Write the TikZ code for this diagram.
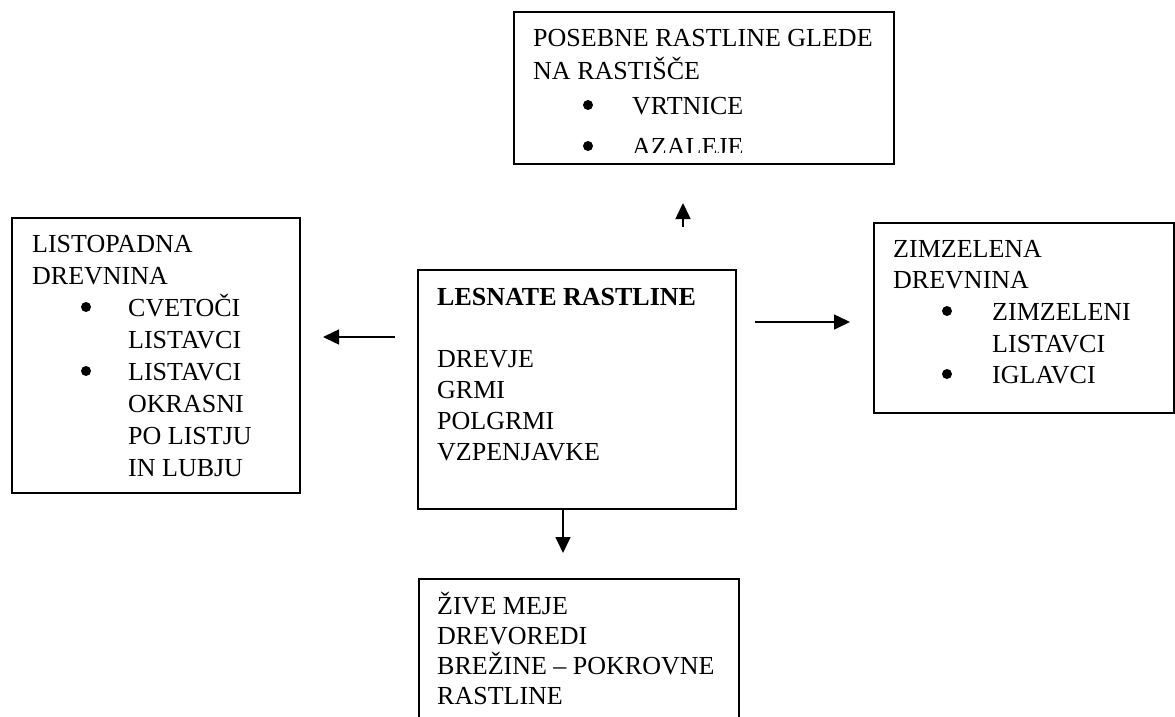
\documentclass[tikz,border=0pt]{standalone}
\usepackage{fontspec}
\setmainfont{Liberation Serif}
\usetikzlibrary{arrows.meta}

\tikzset{
  box/.style={draw, line width=2pt, inner sep=0pt, anchor=north west},
  txt/.style={anchor=base west, inner sep=0pt, font=\fontsize{26}{32}\selectfont},
  dot/.style={circle, fill, inner sep=0pt, minimum size=10pt},
  arr/.style={line width=1.5pt, -{Triangle[length=16pt,width=15pt]}}
}

\begin{document}
\begin{tikzpicture}[x=1pt,y=-1pt]
\fill[white] (0,0) rectangle (1175,717);
\clip (0,0) rectangle (1175,717);

%upper box
\node[box, minimum width=380pt, minimum height=152pt] (posebne) at (513,11) {};
\begin{scope}
  \clip (515,13) rectangle (891,152);
  \foreach \xx/\yy/\word [count=\i] in {533/47/{POSEBNE RASTLINE GLEDE}, 533/79/{NA RASTIŠČE}, 632/114/VRTNICE, 632/155/AZALEJE}
  {
    \node[txt] (posebne-\i) at (\xx,\yy) {\word};
  }
  \foreach \yy [count=\i] in {114,155}
  {
    \node[dot] (posebne-b\i) at (588,\yy-9) {};
  }
\end{scope}

%left box
\node[box, minimum width=288pt, minimum height=275pt] (listopadna) at (11,217) {};
\foreach \xx/\yy/\word [count=\i] in {32/252/LISTOPADNA, 32/284/DREVNINA, 128/316/CVETOČI, 128/348/LISTAVCI, 128/380/LISTAVCI, 128/412/OKRASNI, 128/444/{PO LISTJU}, 128/476/{IN LUBJU}}
{
  \node[txt] (listopadna-\i) at (\xx,\yy) {\word};
}
\foreach \yy [count=\i] in {316,380}
{
  \node[dot] (listopadna-b\i) at (86,\yy-9) {};
}

%centre box
\node[box, minimum width=318pt, minimum height=239pt] (lesnate) at (417,269) {};
\node[txt] (lesnate-0) at (437,305) {\textbf{LESNATE RASTLINE}};
\foreach \yy/\word [count=\i] in {367/DREVJE, 398/GRMI, 429/POLGRMI, 460/VZPENJAVKE}
{
  \node[txt] (lesnate-\i) at (437,\yy) {\word};
}

%right box
\node[box, minimum width=300pt, minimum height=190pt] (zimzelena) at (873,222) {};
\foreach \xx/\yy/\word [count=\i] in {893/257/ZIMZELENA, 893/288/DREVNINA, 992/320/ZIMZELENI, 992/352/LISTAVCI, 992/383/IGLAVCI}
{
  \node[txt] (zimzelena-\i) at (\xx,\yy) {\word};
}
\foreach \yy [count=\i] in {320,383}
{
  \node[dot] (zimzelena-b\i) at (947,\yy-9) {};
}

%lower box
\node[box, minimum width=320pt, minimum height=200pt] (zive) at (418,578) {};
\foreach \yy/\word [count=\i] in {614/{ŽIVE MEJE}, 644/DREVOREDI, 674/{BREŽINE – POKROVNE}, 704/RASTLINE}
{
  \node[txt] (zive-\i) at (437,\yy) {\word};
}

%arrows
\coordinate (up-from) at (683,227);
\coordinate (up-to) at (683,203);
\coordinate (left-from) at (395,337);
\coordinate (left-to) at (323,337);
\coordinate (right-from) at (755,322);
\coordinate (right-to) at (850,322);
\coordinate (down-to) at (563,553);
\draw[arr] (up-from) -- (up-to);
\draw[arr] (left-from) -- (left-to);
\draw[arr] (right-from) -- (right-to);
\draw[arr] (lesnate.south -| down-to) -- (down-to);
\end{tikzpicture}
\end{document}
